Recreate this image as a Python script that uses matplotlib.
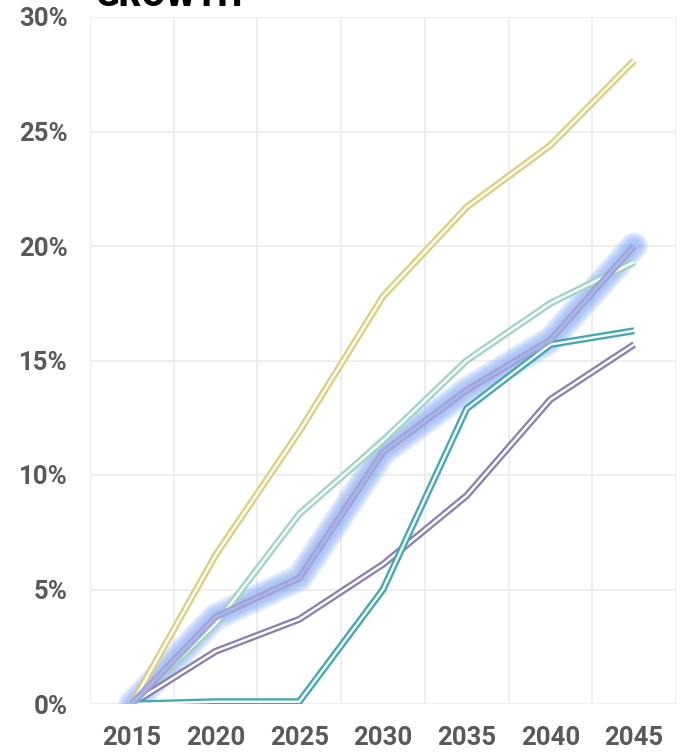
import matplotlib
matplotlib.use("Agg")
import matplotlib.pyplot as plt
import matplotlib.patheffects as pe
from matplotlib.ticker import FixedLocator, FuncFormatter

years = ["2015", "2020", "2025", "2030", "2035", "2040", "2045"]
yellow_vals = [0.0, 6.5, 11.9, 17.8, 21.7, 24.4, 28.1]
mint_vals = [0.0, 3.5, 8.3, 11.5, 15.0, 17.5, 19.3]
highlight_vals = [0.0, 3.8, 5.5, 11.0, 13.7, 15.9, 20.0]
purple_vals = [0.0, 2.3, 3.7, 6.1, 9.1, 13.3, 15.7]
teal_vals = [0.0, 0.1, 0.1, 5.0, 12.9, 15.7, 16.3]
y_ticks = [0, 5, 10, 15, 20, 25, 30]

series = [
    (yellow_vals, "#decf7e", "white"),
    (mint_vals, "#9dd6c2", "white"),
    (purple_vals, "#8a80b6", "white"),
    (teal_vals, "#3fa9b7", "white"),
]

FONT = "Roboto"

fig = plt.figure(figsize=(6.83, 7.52), dpi=100)
ax = fig.add_axes([90/683, 48/752, 586/683, 687/752])
x = list(range(len(years)))

px = 72/100  # points per pixel

# soft glow for highlighted series
glow = "#86acf4"
for w in [28, 25, 22, 19, 16, 13]:
    ax.plot(x, highlight_vals, color=glow, lw=w*px, alpha=0.17,
            solid_capstyle="round", solid_joinstyle="round", zorder=2)

for vals, col, center in series:
    ax.plot(x, vals, color=center, lw=2.4*px, zorder=3,
            solid_capstyle="butt", solid_joinstyle="miter",
            path_effects=[pe.Stroke(linewidth=7*px, foreground=col, capstyle="butt", joinstyle="miter"),
                          pe.Normal()])

ax.plot(x, highlight_vals, color="#9dbaf3", lw=2.4*px, zorder=4,
        solid_capstyle="butt", solid_joinstyle="miter",
        path_effects=[pe.Stroke(linewidth=7*px, foreground="#a9a0d2", capstyle="butt", joinstyle="miter"),
                      pe.Normal()])

ax.set_xlim(-0.5, len(years) - 0.5)
ax.set_ylim(0, 30)
ax.set_xticks(x)
ax.set_xticklabels(years)
ax.xaxis.set_minor_locator(FixedLocator([i - 0.5 for i in range(len(years) + 1)]))
ax.yaxis.set_major_locator(FixedLocator(y_ticks))
ax.yaxis.set_major_formatter(FuncFormatter(lambda v, p: f"{int(v)}%"))
ax.grid(True, which="minor", axis="x", color="#ebebeb", lw=1.2)
ax.grid(True, which="major", axis="y", color="#ebebeb", lw=1.2)
ax.set_axisbelow(True)
for s in ax.spines.values():
    s.set_visible(False)
ax.tick_params(axis="both", which="both", length=0)
ax.tick_params(axis="y", pad=16)
ax.tick_params(axis="x", pad=16)
for lab in ax.get_xticklabels() + ax.get_yticklabels():
    lab.set_fontfamily(FONT)
    lab.set_fontweight("bold")
    lab.set_fontsize(18.5)
    lab.set_color("#595959")

fig.text(96/683, 1 - 6/752, "GROWTH", fontfamily=FONT, fontweight="heavy",
         fontsize=25, color="black", ha="left", va="baseline")

fig.savefig("out.png", dpi=100)
